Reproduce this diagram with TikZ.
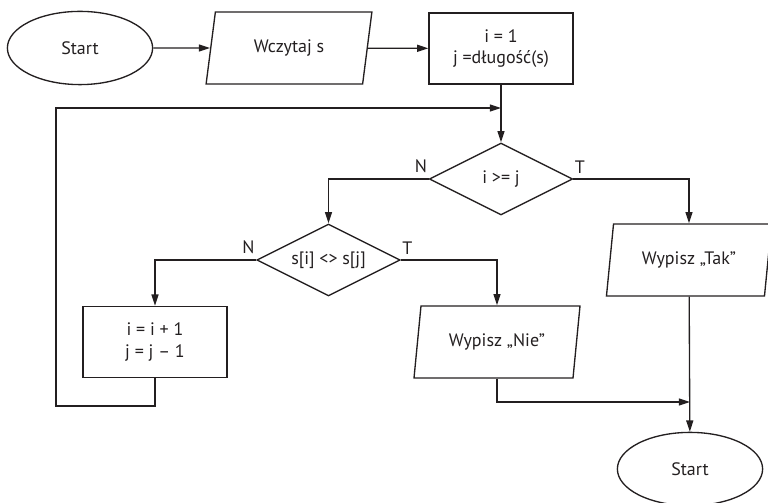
\documentclass[tikz,border=0pt]{standalone}
\usepackage{fontspec}
\setmainfont{PT Sans}
\usepackage{xcolor}
\usepackage{tikz}
\usetikzlibrary{calc,arrows.meta,shapes.geometric}
\definecolor{ink}{HTML}{231F20}
\tikzset{
  flow/.style={draw=ink, line width=0.95pt},
  arr/.style={flow, -{Triangle[length=8pt,width=5pt]}},
  lab/.style={text=ink, font=\fontsize{12.8}{15.5}\selectfont, align=center},
  branch/.style={lab, inner sep=1pt, yshift=3pt},
  term/.style={lab, flow, ellipse, minimum width=3.63cm, minimum height=1.83cm, inner sep=0pt},
  io/.style={lab, flow, trapezium, trapezium left angle=75, trapezium right angle=105,
    trapezium stretches=true, minimum width=4.15cm, minimum height=1.8cm, inner sep=0pt},
  proc/.style={lab, flow, rectangle, minimum width=3.6cm, minimum height=1.78cm, inner sep=0pt},
  test/.style={lab, flow, diamond, aspect=2, minimum width=3.58cm, minimum height=1.8cm, inner sep=0pt},
}

\begin{document}
\begin{tikzpicture}[x=0.025cm, y=-0.025cm]
  \useasboundingbox (0,0) rectangle (768,503);

  \node[term] (start) at (80,48) {Start};
  \node[io]   (read)  at (289,48) {Wczytaj s};
  \node[proc] (init)  at (501,48.5) {i = 1\\j =długość(s)};
  \node[test] (cond1) at (501,179) {i >= j};
  \node[test] (cond2) at (328.5,260) {s[i] <> s[j]};
  \node[io]   (tak)   at (689,260) {Wypisz „Tak”};
  \node[io]   (nie)   at (497,342) {Wypisz „Nie”};
  \node[proc] (inc)   at (155,342) {i = i + 1\\j = j – 1};
  \node[term] (stop)  at (690,469) {Start};

  \coordinate (back) at (501,108);
  \coordinate (corner) at (56,406);
  \coordinate (merge) at (690,402);

  \draw[arr] (start) -- (read);
  \draw[arr] (read) -- (init);
  \draw[arr] (init) -- (cond1);
  \draw[arr] (cond1.west) -| (cond2.north);
  \draw[arr] (cond1.east) -| (tak.north);
  \draw[arr] (cond2.west) -| (inc.north);
  \draw[arr] (cond2.east) -| (nie.north);
  \draw[arr] (tak) -- (stop);
  \draw[arr] (nie.south) |- (merge);
  \draw[arr] (inc.south) |- (corner) |- (back);

  \node[branch,above left]  (n1) at (cond1.west) {N};
  \node[branch,above right] (t1) at (cond1.east) {T};
  \node[branch,above left]  (n2) at (cond2.west) {N};
  \node[branch,above right] (t2) at (cond2.east) {T};
\end{tikzpicture}
\end{document}
